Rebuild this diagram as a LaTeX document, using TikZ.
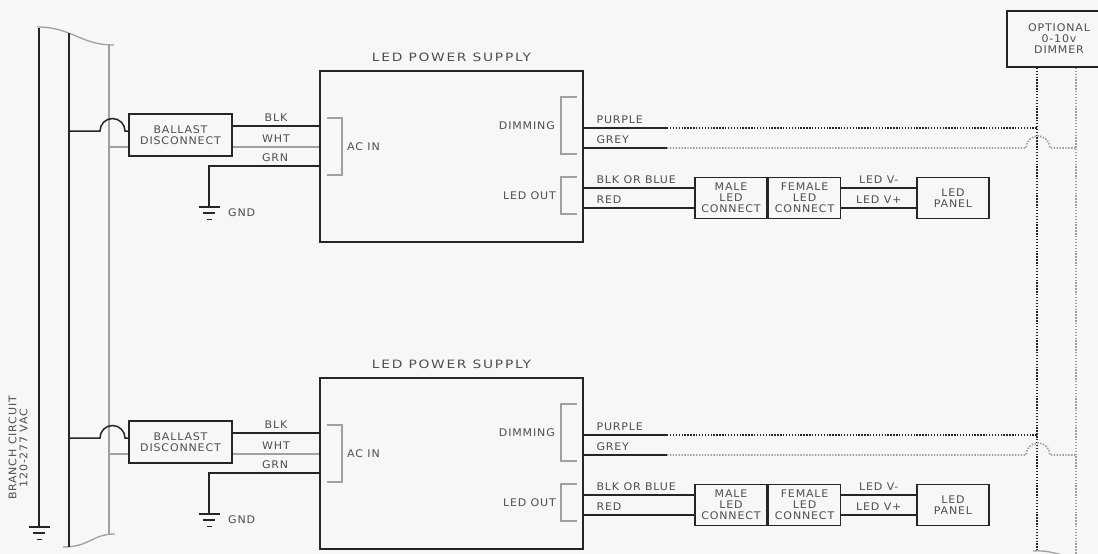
\documentclass[tikz,border=0pt]{standalone}
\usepackage{fontspec}
\setmainfont{DejaVu Sans}[FakeStretch=1.05,LetterSpace=8]
\newfontfamily\titlefamily{DejaVu Sans}[FakeStretch=1.2,LetterSpace=15]
\usetikzlibrary{positioning}

\newcommand\labelfont{\fontsize{10.5}{11}\selectfont}
\newcommand\titlefont{\titlefamily\fontsize{11.5}{14}\selectfont}

\tikzset{
    wire/.style={draw=wirecolor,line width=1.5pt},
    neutralwire/.style={draw=neutralcolor,line width=1.3pt},
    ctrlwire/.style={draw=wirecolor,line width=2pt,dash pattern=on 1.4pt off 1.5pt},
    greyctrl/.style={draw=neutralcolor,line width=1.8pt,dash pattern=on 1.4pt off 1.5pt},
    bracket/.style={draw=neutralcolor,line width=1.3pt},
    block/.style={draw=wirecolor,line width=1.6pt,fill=paper,inner sep=0pt,
        align=center,text=textcolor,font=\labelfont},
    wirelabel/.style={text=textcolor,font=\labelfont,inner sep=1pt}
}
% ground symbol below a named coordinate
\newcommand\groundsym[1]{%
    \draw[wire] ([xshift=-10.5pt]#1) -- ([xshift=10.5pt]#1)
        ([shift={(-6pt,-6pt)}]#1) -- ([shift={(6pt,-6pt)}]#1)
        ([shift={(-2.5pt,-12.5pt)}]#1) -- ([shift={(2.5pt,-12.5pt)}]#1);}

\begin{document}
\begin{tikzpicture}[x=1pt,y=-1pt]
  % Colors
    \definecolor{paper}{HTML}{F7F7F7}
    \definecolor{wirecolor}{HTML}{262626}
    \definecolor{neutralcolor}{HTML}{A0A0A0}
    \definecolor{textcolor}{HTML}{4F4F4F}

    \fill[paper] (0,0) rectangle (1098,554);
    \useasboundingbox (0,0) rectangle (1098,554);

  % Branch circuit
    \coordinate (gndbus) at (39,28);
    \coordinate (hotbus) at (69,33);
    \coordinate (neubus) at (109,45);
    \draw[neutralwire] (37,27) .. controls (72,27) and (80,45) .. (114,45);
    \draw[neutralwire] (63,547) .. controls (90,547) and (92,534) .. (115,534);
    \draw[wire] (gndbus) -- (39,527) coordinate (branchgnd);
    \draw[wire] (hotbus) -- (69,547);
    \draw[neutralwire] (neubus) -- (109,534);
    \groundsym{branchgnd}
    \node[wirelabel,rotate=90,align=center] (branch) at (18,448) {BRANCH CIRCUIT\\120-277 VAC};

  % Dimmer
    \node[block,minimum width=104pt,minimum height=56pt] (dimmer) at (1059,39) {OPTIONAL\\0-10v\\DIMMER};
    \coordinate (dimneg) at ([xshift=31pt]dimmer.south west);
    \coordinate (dimpos) at ([xshift=70pt]dimmer.south west);
    \draw[ctrlwire] (dimneg) -- (dimneg |- 0,552);
    \draw[greyctrl] (dimpos) -- (dimpos |- 0,556);
    \draw[neutralwire] (1033,551) .. controls (1045,550) and (1055,553) .. (1070,557);

  % The two fixtures
    \foreach \row/\dy in {a/0,b/307}{
      \begin{scope}[shift={(0,\dy)}]
        % ballast disconnect
        \node[block,minimum width=103pt,minimum height=42pt] (ballast\row) at (180.5,135) {BALLAST\\DISCONNECT};
        \draw[wire] (hotbus |- 0,131) -- (100,131) arc[start angle=180,end angle=0,radius=12.5pt]
            -- (ballast\row.west |- 0,131);
        \draw[neutralwire] (neubus |- 0,147) -- (ballast\row.west |- 0,147);

        % power supply
        \node[block,minimum width=263pt,minimum height=171pt] (psu\row) at (451.5,156.5) {};
        \node[wirelabel,font=\titlefont,above=7pt of psu\row] (psutitle\row) {LED POWER SUPPLY};
        \draw[wire] (ballast\row.east |- 0,126) -- node[wirelabel,above=3pt] (blk\row) {BLK} (psu\row.west |- 0,126);
        \draw[neutralwire] (ballast\row.east |- 0,147) -- node[wirelabel,above=3pt] (wht\row) {WHT} (psu\row.west |- 0,147);
        \coordinate (gnd\row) at (209,207);
        \draw[wire] (gnd\row) |- node[wirelabel,above=3pt,pos=0.8] (grn\row) {GRN} (psu\row.west |- 0,166);
        \groundsym{gnd\row}
        \node[wirelabel,anchor=west] (gndlabel\row) at (227,213) {GND};

        % brackets
        \draw[bracket] (327,118) -| (342,175) -- (327,175);
        \node[wirelabel,anchor=west] (acin\row) at (346,147) {AC IN};
        \draw[bracket] (577,97) -| (561,154) -- (577,154);
        \node[wirelabel,anchor=east] (dimming\row) at (556,126) {DIMMING};
        \draw[bracket] (577,177) -| (561,214) -- (577,214);
        \node[wirelabel,anchor=east] (ledout\row) at (557,196) {LED OUT};

        % dimming leads
        \draw[wire] (psu\row.east |- 0,128) -- node[wirelabel,pos=0,anchor=south west,xshift=11pt,yshift=3pt] (purple\row) {PURPLE}
            (667,128) coordinate (purpleend\row);
        \draw[wire] (psu\row.east |- 0,148) -- node[wirelabel,pos=0,anchor=south west,xshift=11pt,yshift=3pt] (grey\row) {GREY}
            (667,148) coordinate (greyend\row);
        \draw[ctrlwire] (purpleend\row) -- (dimneg |- purpleend\row);
        \draw[greyctrl] (greyend\row) -- (1026,148) arc[start angle=180,end angle=0,radius=12pt]
            -- (dimpos |- greyend\row);

        % led output
        \node[block,minimum width=72pt,minimum height=41pt] (male\row) at (731,198) {MALE\\LED\\CONNECT};
        \node[block,minimum width=72pt,minimum height=41pt,right=0pt of male\row] (female\row) {FEMALE\\LED\\CONNECT};
        \node[block,minimum width=72pt,minimum height=41pt] (panel\row) at (953,198) {LED\\PANEL};
        \draw[wire] (psu\row.east |- 0,188) -- node[wirelabel,pos=0,anchor=south west,xshift=11pt,yshift=3pt] (blkblue\row) {BLK OR BLUE}
            (male\row.west |- 0,188);
        \draw[wire] (psu\row.east |- 0,208) -- node[wirelabel,pos=0,anchor=south west,xshift=11pt,yshift=3pt] (red\row) {RED}
            (male\row.west |- 0,208);
        \draw[wire] (female\row.east |- 0,188) -- node[wirelabel,above=3pt] (vneg\row) {LED V-} (panel\row.west |- 0,188);
        \draw[wire] (female\row.east |- 0,208) -- node[wirelabel,above=3pt] (vpos\row) {LED V+} (panel\row.west |- 0,208);
      \end{scope}
    }
\end{tikzpicture}
\end{document}
